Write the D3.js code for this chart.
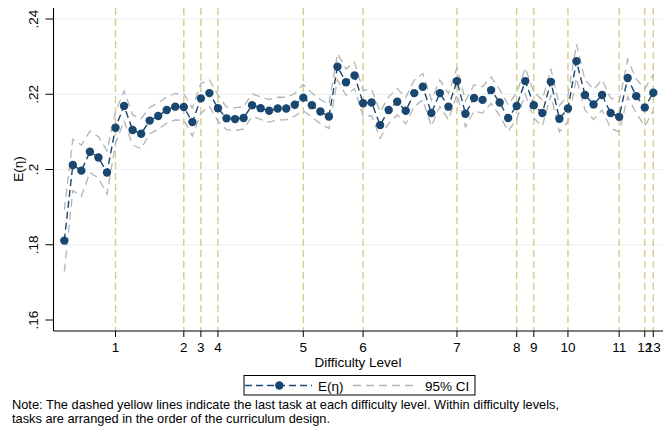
<!DOCTYPE html>
<html>
<head>
<meta charset="utf-8">
<script src="https://cdn.jsdelivr.net/npm/d3@7"></script>
<style>
  body { margin: 0; background: #fff; }
  svg { font-family: "Liberation Sans", Arial, sans-serif; }
</style>
</head>
<body>
<script>
// mean E(eta) per task, tasks 1..70 in curriculum order
const meanEta = [
  .1811, .2012, .1997, .2047, .2032, .1992, .2111, .2169, .2105, .2095,
  .2130, .2142, .2158, .2167, .2166, .2126, .2189, .2203, .2163, .2136,
  .2134, .2137, .2171, .2163, .2156, .2162, .2162, .2172, .2191, .2171,
  .2154, .2141, .2273, .2232, .2250, .2176, .2178, .2118, .2158, .2180,
  .2156, .2203, .2220, .2150, .2203, .2167, .2235, .2148, .2190, .2185,
  .2211, .2178, .2137, .2169, .2235, .2171, .2150, .2233, .2135, .2162,
  .2288, .2198, .2173, .2198, .2150, .2140, .2243, .2195, .2165, .2204
];
const ciLow = [
  .1729, .1944, .1929, .1992, .1977, .1934, .2069, .2129, .2065, .2055,
  .2095, .2107, .2123, .2132, .2131, .2089, .2149, .2168, .2128, .2106,
  .2104, .2107, .2141, .2133, .2126, .2132, .2132, .2142, .2156, .2139,
  .2122, .2109, .2238, .2197, .2215, .2141, .2143, .2083, .2123, .2145,
  .2121, .2168, .2185, .2115, .2168, .2132, .2200, .2113, .2155, .2150,
  .2176, .2143, .2102, .2134, .2200, .2136, .2115, .2198, .2100, .2127,
  .2243, .2158, .2133, .2158, .2110, .2100, .2193, .2150, .2115, .2156
];
const ciHigh = [
  .1893, .2080, .2065, .2102, .2087, .2050, .2153, .2209, .2145, .2135,
  .2165, .2177, .2193, .2202, .2201, .2163, .2229, .2238, .2198, .2166,
  .2164, .2167, .2201, .2193, .2186, .2192, .2192, .2202, .2226, .2203,
  .2186, .2173, .2308, .2267, .2285, .2211, .2213, .2153, .2193, .2215,
  .2191, .2238, .2255, .2185, .2238, .2202, .2270, .2183, .2225, .2220,
  .2246, .2213, .2172, .2204, .2270, .2206, .2185, .2268, .2170, .2197,
  .2333, .2238, .2213, .2238, .2190, .2180, .2293, .2240, .2215, .2252
];
// last task of each difficulty level
const levelLastTask = [7, 15, 17, 19, 29, 36, 47, 54, 56, 60, 66, 69, 70];
const levelLabels = ["1","2","3","4","5","6","7","8","9","10","11","12","13"];
const yTicks = [.16, .18, .2, .22, .24];
const yTickLabels = [".16", ".18", ".2", ".22", ".24"];

const width = 669, height = 431;
const navy = "#1a476f", grey = "#b4b4b4", gold = "#d6cc8c";

const svg = d3.select("body").append("svg")
  .attr("width", width).attr("height", height);

const tasks = d3.range(1, meanEta.length + 1);
const x = d3.scaleLinear().domain([1, 70]).range([64.3, 653.3]);
const y = d3.scaleLinear().domain([.16, .24]).range([320, 19]);

const plotL = 53.5, plotR = 663, plotT = 8, plotB = 331;

// grid lines
svg.append("g").selectAll("line")
  .data(yTicks.filter(d => d > .16))
  .enter().append("line")
  .attr("x1", plotL).attr("x2", plotR)
  .attr("y1", d => y(d)).attr("y2", d => y(d))
  .attr("stroke", "#e9f1f3").attr("stroke-width", 1.2);

// dashed level lines
svg.append("g").selectAll("line")
  .data(levelLastTask)
  .enter().append("line")
  .attr("x1", d => x(d)).attr("x2", d => x(d))
  .attr("y1", plotT).attr("y2", plotB)
  .attr("stroke", gold).attr("stroke-width", 1.4)
  .attr("stroke-dasharray", "7,4");

// axes lines
svg.append("line").attr("x1", plotL).attr("x2", plotL).attr("y1", plotT).attr("y2", plotB)
  .attr("stroke", "#000").attr("stroke-width", 1.1);
svg.append("line").attr("x1", plotL).attr("x2", plotR).attr("y1", plotB).attr("y2", plotB)
  .attr("stroke", "#000").attr("stroke-width", 1.1);

// y ticks and rotated labels
const yt = svg.append("g").selectAll("g").data(yTicks).enter().append("g");
yt.append("line")
  .attr("x1", plotL - 8).attr("x2", plotL)
  .attr("y1", d => y(d)).attr("y2", d => y(d))
  .attr("stroke", "#000").attr("stroke-width", 1);
yt.append("text")
  .attr("transform", d => `translate(33.5,${y(d)}) rotate(-90)`)
  .attr("text-anchor", "middle").attr("dominant-baseline", "central")
  .attr("font-size", 13.5)
  .text((d, i) => yTickLabels[i]);

svg.append("text")
  .attr("transform", "translate(18,169) rotate(-90)")
  .attr("text-anchor", "middle").attr("dominant-baseline", "central")
  .attr("font-size", 13.5)
  .text("E(η)");

// x ticks
const xt = svg.append("g").selectAll("g").data(levelLastTask).enter().append("g");
xt.append("line")
  .attr("x1", d => x(d)).attr("x2", d => x(d))
  .attr("y1", plotB).attr("y2", plotB + 6)
  .attr("stroke", "#000").attr("stroke-width", 1);
xt.append("text")
  .attr("x", d => x(d)).attr("y", 352)
  .attr("text-anchor", "middle").attr("font-size", 13.5)
  .text((d, i) => levelLabels[i]);

svg.append("text")
  .attr("x", 358).attr("y", 367)
  .attr("text-anchor", "middle").attr("font-size", 13.5)
  .text("Difficulty Level");

// CI lines
const seriesLine = d3.line().x((d, i) => x(tasks[i])).y(d => y(d));
[ciLow, ciHigh].forEach(arr => {
  svg.append("path")
    .attr("d", seriesLine(arr))
    .attr("fill", "none").attr("stroke", grey).attr("stroke-width", 1.3)
    .attr("stroke-dasharray", "8,5");
});

// mean line and markers
svg.append("path")
  .attr("d", seriesLine(meanEta))
  .attr("fill", "none").attr("stroke", navy).attr("stroke-width", 1.4)
  .attr("stroke-dasharray", "7,4");
svg.append("g").selectAll("circle")
  .data(meanEta)
  .enter().append("circle")
  .attr("cx", (d, i) => x(tasks[i])).attr("cy", d => y(d))
  .attr("r", 4.2).attr("fill", navy);

// legend
const lg = svg.append("g");
lg.append("rect").attr("x", 244).attr("y", 375.5).attr("width", 231).attr("height", 19.5)
  .attr("fill", "#fff").attr("stroke", "#000").attr("stroke-width", 1);
lg.append("line").attr("x1", 245).attr("x2", 312).attr("y1", 385.5).attr("y2", 385.5)
  .attr("stroke", navy).attr("stroke-width", 1.4).attr("stroke-dasharray", "7,4");
lg.append("circle").attr("cx", 279.3).attr("cy", 385.5).attr("r", 4.2).attr("fill", navy);
lg.append("text").attr("x", 318).attr("y", 390.5).attr("font-size", 13.5).text("E(η)");
lg.append("line").attr("x1", 353).attr("x2", 417).attr("y1", 385.5).attr("y2", 385.5)
  .attr("stroke", grey).attr("stroke-width", 1.3).attr("stroke-dasharray", "8,5");
lg.append("text").attr("x", 425).attr("y", 390.5).attr("font-size", 13.5).text("95% CI");

// note
svg.append("text").attr("x", 12).attr("y", 408.5).attr("font-size", 12.8)
  .text("Note: The dashed yellow lines indicate the last task at each difficulty level. Within difficulty levels,");
svg.append("text").attr("x", 12).attr("y", 422.5).attr("font-size", 12.8)
  .text("tasks are arranged in the order of the curriculum design.");
</script>
</body>
</html>
